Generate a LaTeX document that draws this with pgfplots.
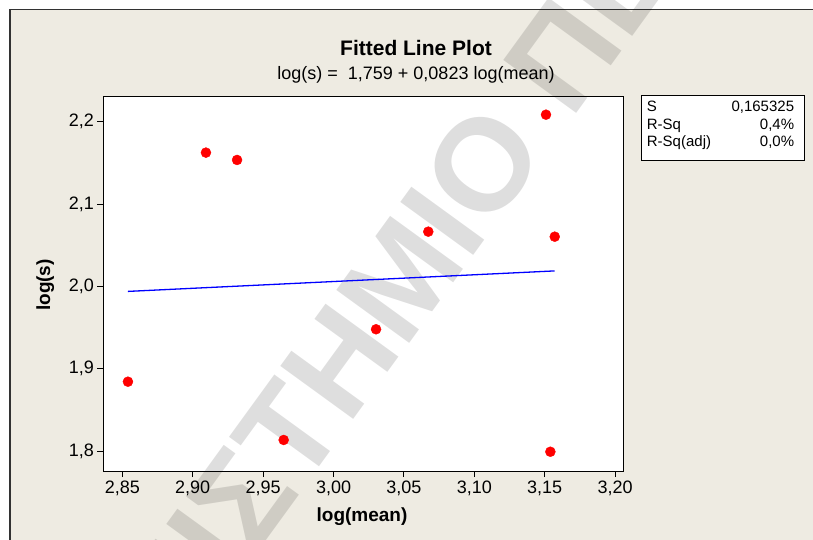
\documentclass[border=0pt]{standalone}
\usepackage{fontspec}
\setmainfont{Liberation Sans}
\usepackage{pgfplots}
\pgfplotsset{compat=1.18}
\definecolor{bgbeige}{RGB}{238,235,226}
\definecolor{framegray}{RGB}{50,50,50}

\begin{document}
\begin{tikzpicture}
\useasboundingbox (0,0) rectangle (813bp,-540bp);
\fill[white] (0,0) rectangle (813bp,-540bp);
\draw[framegray, line width=1.5bp, fill=bgbeige] (10bp,-9.5bp) rectangle (840bp,-570bp);
\fill[white] (103.3bp,-96bp) rectangle (623.3bp,-471bp);
% watermark
\node[rotate=54, anchor=base east, inner sep=0pt, opacity=0.13,
      font=\fontsize{131bp}{131bp}\selectfont\bfseries] (wm1) at (550bp,-150bp) {ΠΑΝΕΠΙΣΤΗΜΙΟ};
\node[rotate=54, anchor=base west, inner sep=0pt, opacity=0.13,
      font=\fontsize{131bp}{131bp}\selectfont\bfseries] at (wm1.base east) {\hspace*{0.28em}ΠΕΙΡΑΙΩΣ};

\begin{axis}[
  at={(103.3bp,-96bp)}, anchor=north west,
  width=520bp, height=375bp, scale only axis,
  xmin=2.8365, xmax=3.2058, ymin=1.7757, ymax=2.2313,
  axis line style={black, line width=1bp},
  xtick={2.85,2.9,2.95,3,3.05,3.1,3.15,3.2},
  xticklabels={{2,85},{2,90},{2,95},{3,00},{3,05},{3,10},{3,15},{3,20}},
  ytick={1.8,1.9,2.0,2.1,2.2},
  yticklabels={{1,8},{1,9},{2,0},{2,1},{2,2}},
  tick align=outside, xtick pos=bottom, ytick pos=left,
  major tick length=6bp,
  tick style={black, line width=1bp},
  tick label style={font=\fontsize{18bp}{18bp}\selectfont},
  clip=false,
]
\addplot[only marks, mark=*, mark size=5bp, mark options={draw=red, fill=red}] coordinates {
  (2.854,1.8842) (2.9094,2.1625) (2.9315,2.1536) (2.9646,1.8134) (3.0302,1.9479)
  (3.0673,2.0665) (3.1509,2.2086) (3.1571,2.0604) (3.154,1.7991)
};
\addplot[blue, line width=1.3bp, no marks] coordinates {
  (2.854,1.9939) (3.157,2.0188)
};
\end{axis}

\node[font=\fontsize{21bp}{21bp}\selectfont\bfseries, anchor=base] at (416bp,-55bp) {Fitted Line Plot};
\node[font=\fontsize{18bp}{18bp}\selectfont, anchor=base] at (416bp,-79bp) {log(s) = \ 1,759 + 0,0823 log(mean)};
\node[font=\fontsize{19bp}{19bp}\selectfont\bfseries, anchor=base] at (362bp,-521bp) {log(mean)};
\node[font=\fontsize{19bp}{19bp}\selectfont\bfseries, anchor=base, rotate=90] at (50bp,-285bp) {log(s)};

\draw[black, line width=1bp, fill=white] (641.7bp,-95.7bp) rectangle (804bp,-160bp);
\begin{scope}[every node/.style={font=\fontsize{15bp}{15bp}\selectfont, inner sep=0pt}]
\node[anchor=base west] at (646.7bp,-111.5bp) {S};
\node[anchor=base west] at (646.7bp,-129bp) {R-Sq};
\node[anchor=base west] at (646.7bp,-146.5bp) {R-Sq(adj)};
\node[anchor=base east] at (794.3bp,-111.5bp) {0,165325};
\node[anchor=base east] at (794.3bp,-129bp) {0,4\%};
\node[anchor=base east] at (794.3bp,-146.5bp) {0,0\%};
\end{scope}
\end{tikzpicture}
\end{document}
